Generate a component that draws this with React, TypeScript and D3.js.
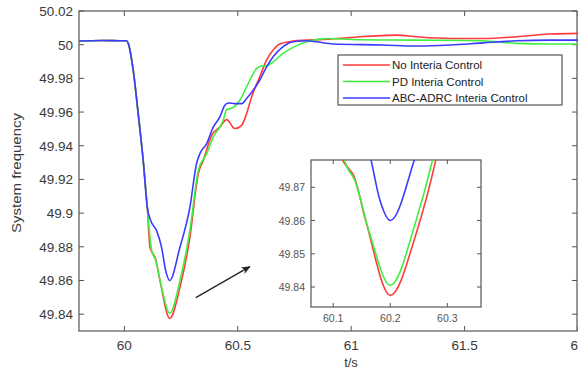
import * as d3 from 'd3';

// series: [t, frequency]
const noInertia: [number, number][] = [
  [59.8, 50.0022], [59.9, 50.0025], [60.0, 50.0023], [60.01, 50.0023], [60.017, 50.0008],
  [60.039, 49.9849], [60.061, 49.9591], [60.083, 49.9313], [60.101, 49.9035],
  [60.113, 49.8797], [60.129, 49.8752], [60.135, 49.8738], [60.157, 49.8599],
  [60.2, 49.8375], [60.245, 49.8559], [60.289, 49.8857], [60.326, 49.9234],
  [60.348, 49.9313], [60.385, 49.9462], [60.421, 49.9511], [60.451, 49.9555],
  [60.487, 49.9502], [60.517, 49.9521], [60.539, 49.9591], [60.561, 49.969],
  [60.597, 49.9809], [60.627, 49.9908], [60.656, 49.9968], [60.685, 50.0004],
  [60.744, 50.0021], [60.803, 50.0027], [60.9, 50.0033], [61.0, 50.0043],
  [61.2, 50.0057], [61.288, 50.0047], [61.434, 50.0037], [61.581, 50.0037],
  [61.728, 50.0047], [61.875, 50.0063], [62.0, 50.0067],
];
const pdInertia: [number, number][] = [
  [59.8, 50.0022], [59.9, 50.0025], [60.0, 50.0023], [60.01, 50.0023], [60.017, 50.0008],
  [60.039, 49.9849], [60.061, 49.9591], [60.083, 49.9313], [60.101, 49.9035],
  [60.12, 49.878], [60.138, 49.872], [60.164, 49.856], [60.2, 49.8405],
  [60.245, 49.8599], [60.289, 49.8897], [60.326, 49.9254], [60.363, 49.9353],
  [60.392, 49.9452], [60.436, 49.9551], [60.451, 49.9615], [60.48, 49.9627],
  [60.509, 49.967], [60.539, 49.9749], [60.583, 49.9859], [60.605, 49.9873],
  [60.627, 49.9875], [60.656, 49.9898], [60.7, 49.9948], [60.744, 49.9984],
  [60.803, 50.0017], [60.862, 50.0033], [60.9, 50.0037], [61.0, 50.0031],
  [61.288, 50.0027], [61.581, 50.0023], [61.728, 50.0008], [61.875, 50.0004],
  [62.0, 50.0004],
];
const adrcInertia: [number, number][] = [
  [59.8, 50.0022], [59.9, 50.0025], [60.0, 50.0023], [60.01, 50.0023], [60.017, 50.0008],
  [60.039, 49.9849], [60.061, 49.9591], [60.083, 49.9313], [60.101, 49.9035],
  [60.116, 49.8956], [60.142, 49.8896], [60.164, 49.8797], [60.182, 49.866],
  [60.2, 49.86], [60.245, 49.8797], [60.289, 49.9035], [60.318, 49.9293],
  [60.333, 49.9353], [60.363, 49.9413], [60.392, 49.9511], [60.421, 49.9571],
  [60.443, 49.964], [60.458, 49.9654], [60.487, 49.965], [60.517, 49.965],
  [60.539, 49.968], [60.568, 49.973], [60.597, 49.979], [60.627, 49.9868],
  [60.656, 49.9928], [60.7, 49.9988], [60.744, 50.0017], [60.803, 50.0023],
  [60.847, 50.0017], [60.92, 50.0004], [61.14, 49.9998], [61.288, 49.9992],
  [61.434, 49.9998], [61.581, 50.0011], [61.728, 50.0023], [61.875, 50.0027],
  [62.0, 50.0027],
];

const seriesNames = ['No Interia Control', 'PD Interia Control', 'ABC-ADRC Interia Control'];
const seriesColors = ['#ff3b3b', '#3ef03e', '#3b3bff'];
const allSeries = [noInertia, pdInertia, adrcInertia];

const xTicks = [60, 60.5, 61, 61.5, 62];
const yTicks = [49.84, 49.86, 49.88, 49.9, 49.92, 49.94, 49.96, 49.98, 50, 50.02];
const insetXTicks = [60.1, 60.2, 60.3];
const insetYTicks = [49.84, 49.85, 49.86, 49.87];
// arrow pointing to the zoomed box, in data units
const arrowFrom: [number, number] = [60.315, 49.8498];
const arrowTo: [number, number] = [60.553, 49.8682];

const W = 578;
const H = 371;
const font = '"Liberation Sans", Arial, sans-serif';
const textCol = '#3a3a3a';
const axisCol = '#555';

export default function App() {
  const x = d3.scaleLinear().domain([59.8, 62]).range([79, 578]);
  const y = d3.scaleLinear().domain([49.83, 50.02]).range([331, 11]);

  const ix = d3.scaleLinear().domain([60.061, 60.359]).range([311, 481]);
  const iy = d3.scaleLinear().domain([49.834, 49.8782]).range([307, 160]);

  const line = d3.line<[number, number]>().x((d) => x(d[0])).y((d) => y(d[1])).curve(d3.curveMonotoneX);
  const insetLine = d3.line<[number, number]>().x((d) => ix(d[0])).y((d) => iy(d[1])).curve(d3.curveMonotoneX);

  const [x0, x1] = x.range();
  const [y0, y1] = y.range();
  const [ix0, ix1] = ix.range();
  const [iy0, iy1] = iy.range();

  return (
    <svg width={W} height={H} style={{ position: 'fixed', left: 0, top: 0, background: '#fff' }} fontFamily={font}>
      <defs>
        <clipPath id="main-clip">
          <rect x={x0} y={y1} width={x1 - x0} height={y0 - y1} />
        </clipPath>
        <clipPath id="inset-clip">
          <rect x={ix0} y={iy1} width={ix1 - ix0} height={iy0 - iy1} />
        </clipPath>
        <marker id="arrowhead" viewBox="0 0 10 10" refX="9" refY="5" markerWidth="7" markerHeight="7" orient="auto">
          <path d="M0,1 L10,5 L0,9 L3,5 Z" fill="#222" />
        </marker>
      </defs>

      {/* main axes box */}
      <rect x={x0} y={y1} width={x1 - x0 - 1} height={y0 - y1} fill="none" stroke={axisCol} strokeWidth={1.2} />
      {xTicks.map((t) => (
        <g key={'x' + t}>
          <line x1={x(t)} x2={x(t)} y1={y0} y2={y0 - 5} stroke={axisCol} />
          <line x1={x(t)} x2={x(t)} y1={y1} y2={y1 + 5} stroke={axisCol} />
          <text x={x(t)} y={350} textAnchor="middle" fontSize={13.5} fill={textCol}>{t}</text>
        </g>
      ))}
      {yTicks.map((v) => (
        <g key={'y' + v}>
          <line x1={x0} x2={x0 + 5} y1={y(v)} y2={y(v)} stroke={axisCol} />
          <line x1={x1 - 1} x2={x1 - 6} y1={y(v)} y2={y(v)} stroke={axisCol} />
          <text x={73} y={y(v) + 5} textAnchor="end" fontSize={13.5} fill={textCol}>{v}</text>
        </g>
      ))}
      <text x={351} y={367} textAnchor="middle" fontSize={13} fill={textCol}>t/s</text>
      <text transform="translate(21,173) rotate(-90)" textAnchor="middle" fontSize={12} fill={textCol} textLength={120} lengthAdjust="spacingAndGlyphs">System frequency</text>

      <g clipPath="url(#main-clip)">
        {allSeries.map((s, i) => (
          <path key={i} d={line(s) ?? ''} fill="none" stroke={seriesColors[i]} strokeWidth={1.6} />
        ))}
      </g>

      {/* legend */}
      <rect x={338} y={55} width={224} height={50} fill="#fff" stroke={axisCol} strokeWidth={1.2} />
      {seriesNames.map((n, i) => (
        <g key={n}>
          <line x1={343} x2={390} y1={65 + i * 16.5} y2={65 + i * 16.5} stroke={seriesColors[i]} strokeWidth={1.6} />
          <text x={392} y={69 + i * 16.5} fontSize={11.5} fill="#222">{n}</text>
        </g>
      ))}

      {/* arrow */}
      <line x1={x(arrowFrom[0])} y1={y(arrowFrom[1])} x2={x(arrowTo[0])} y2={y(arrowTo[1])} stroke="#222" strokeWidth={1.3} markerEnd="url(#arrowhead)" />

      {/* inset */}
      <rect x={ix0} y={iy1} width={ix1 - ix0} height={iy0 - iy1} fill="#fff" stroke={axisCol} strokeWidth={1.2} />
      <g clipPath="url(#inset-clip)">
        {allSeries.map((s, i) => (
          <path key={i} d={insetLine(s) ?? ''} fill="none" stroke={seriesColors[i]} strokeWidth={1.6} />
        ))}
      </g>
      {insetXTicks.map((t) => (
        <g key={'ix' + t}>
          <line x1={ix(t)} x2={ix(t)} y1={iy0} y2={iy0 - 4} stroke={axisCol} />
          <line x1={ix(t)} x2={ix(t)} y1={iy1} y2={iy1 + 4} stroke={axisCol} />
          <text x={ix(t)} y={322} textAnchor="middle" fontSize={10.5} fill="#555">{t}</text>
        </g>
      ))}
      {insetYTicks.map((v) => (
        <g key={'iy' + v}>
          <line x1={ix0} x2={ix0 + 4} y1={iy(v)} y2={iy(v)} stroke={axisCol} />
          <line x1={ix1} x2={ix1 - 4} y1={iy(v)} y2={iy(v)} stroke={axisCol} />
          <text x={ix0 - 6} y={iy(v) + 4} textAnchor="end" fontSize={10.5} fill="#555">{v}</text>
        </g>
      ))}
    </svg>
  );
}
